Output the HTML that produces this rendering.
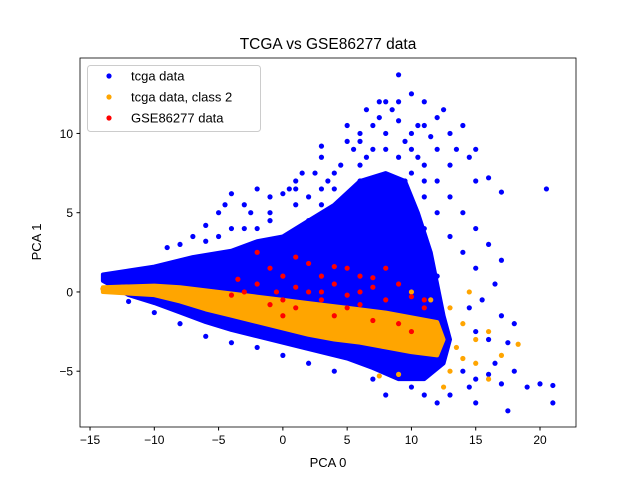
<!DOCTYPE html>
<html><head><meta charset="utf-8"><style>
body{margin:0;background:#fff}
svg{font-family:"Liberation Sans","DejaVu Sans",sans-serif}
</style></head><body>
<svg id="chart" width="640" height="480" viewBox="0 0 640 480">
<rect width="640" height="480" fill="#fff"/>
<text x="328" y="49" font-size="15.5" text-anchor="middle">TCGA vs GSE86277 data</text>
<g id="marks"></g>
<g id="axes"></g>
<text x="328" y="467" font-size="13" text-anchor="middle">PCA 0</text>
<text transform="translate(41,242) rotate(-90)" font-size="13" text-anchor="middle">PCA 1</text>
<g>
<rect x="87.5" y="65.5" width="173" height="66" rx="3" fill="#fff" fill-opacity="0.8" stroke="#ccc"/>
<circle cx="109" cy="76" r="2.6" fill="blue"/>
<text x="131" y="80.5" font-size="13">tcga data</text>
<circle cx="109" cy="97" r="2.6" fill="orange"/>
<text x="131" y="101.5" font-size="13">tcga data, class 2</text>
<circle cx="109" cy="118" r="2.6" fill="red"/>
<text x="131" y="122.5" font-size="13">GSE86277 data</text>
</g>
</svg>
<script>
const xTicks=[-15,-10,-5,0,5,10,15,20];
const yTicks=[-5,0,5,10];
// dense cloud outlines (data coordinates)
const blueCoreX=[-14,-10,-7,-4,-2,0,2,4,6,8,9.5,10.5,11.5,12,12.5,13,12.5,11,9,7,5,2,0,-2,-4,-6,-8,-10,-12,-14];
const blueCoreY=[1.1,1.6,2.2,2.6,3.2,3.5,4.5,5.5,7,7.5,7,5,2.5,0.5,-1.5,-3,-4.5,-5.5,-5.5,-4.8,-4.2,-3.6,-3.2,-2.8,-2.4,-1.9,-1.3,-0.7,-0.2,0.7];
const orangeCoreX=[-14,-10,-8,-6,-4,-2,0,2,4,6,8,10,12,12.5,12,10,8,6,4,2,0,-2,-4,-6,-8,-10,-14];
const orangeCoreY=[0.3,0.4,0.3,0.1,-0.1,-0.3,-0.5,-0.7,-0.9,-1.1,-1.3,-1.6,-1.9,-3,-4,-3.8,-3.5,-3.2,-3,-2.7,-2.3,-1.9,-1.5,-1.1,-0.6,-0.2,0];
const blueX=[9,10,7.5,11,12.5,7.5,9,10.5,13,14,8,6,5.5,11.5,12,13.5,14.5,15,16,15,13,10.5,6.5,4.5,3.5,2.5,1.5,0.5,-1,-2,-3,-4.5,-4,-6,-5,-7,-8,-9,-2.5,0,1,2,3,4,5,6,7,8,9,10,11,12,13,14,15,16,17,20.5,14,15,16.5,15.5,14.5,17,17.5,16,15,14,15,16,17,18,19,20,21,21,17.5,15,14.5,13,12,11,10,8,7,4,2,0,-2,-4,-6,-8,-10,-12,18,16.5,13,12,11,3,1,-1,-3,5,8,6.5,12,3,9.5,7,17,5,6,7,8,9,10,11,8.5,9.5,10,7,6,4,3,2,1,-1,-2,-4,-5,-6,11,12,9,11,10];
const blueY=[13.7,12.5,12,12,11.5,11,10.8,10.5,10,10.5,10,10,9,9.8,9,9,8.5,9,7.2,7,8,8.5,8.5,8,7,7.5,7.5,6.5,6,6.5,5.5,5.5,6.2,4.2,5,3.5,3,2.8,5,6.2,5.5,4.5,5.5,6.5,6,7,5,6,5,5.5,6,7,6,5,4,3,6.3,6.5,2.5,1.5,0.5,-0.5,-1,-1.5,-3.2,-3,-2.5,-5,-5.5,-5.2,-5.8,-5,-6,-5.8,-7,-5.9,-7.5,-7,-6,-6.5,-7,-6.5,-6,-6.5,-5.5,-5,-4.5,-4,-3.5,-3.2,-2.8,-2,-1.3,-0.6,-2,-4.5,3.5,1,4,8.5,7,4.5,4,9.5,12,11.5,11,9.2,7,2.5,2,10.5,9.5,9,9,8.5,9,8,11.5,9.5,10,10.5,8,7.5,6.5,6,6.5,5,4,4,3.5,3.2,7,5,12,10.5,7.5];
const orangeX=[13,14,15,14,15,16,13,16,18.3,17,14.5,12.5,11,9,7.5,13.5,10,11.5,-14,-12.5,-11];
const orangeY=[-1,-2,-3,-4.2,-4.5,-5.5,-5,-2.5,-3.3,-4,0,-6,-3.8,-5.2,-5.3,-3.5,0,-0.5,0.2,0.3,0.1];
const redX=[-2,-1,0,1,-2,-1,0,1,2,3,3,4,4,5,5,6,6,7,8,7,8,9,10,11,11,0,-3,-4,-3.5,2,1,-0.5,3,5,9,4,10,7,6];
const redY=[2.5,1.5,1,0.3,0.5,-0.8,-0.5,-1,0,1,-0.5,0.5,-1.5,-0.2,1.5,1,-0.8,0.3,-0.5,-1.8,1.5,0.5,-0.3,-1,-0.5,-1.5,0,-0.2,0.8,1.8,2.2,0,0,-1,-2,1.6,-2.5,0.9,0];

const L=80,R=576,T=58,B=427,xmin=-15.78,xmax=22.8,ymin=-8.52,ymax=14.76;
const sx=v=>L+(v-xmin)/(xmax-xmin)*(R-L);
const sy=v=>B-(v-ymin)/(ymax-ymin)*(B-T);
const NS='http://www.w3.org/2000/svg';
const marks=document.getElementById('marks'),axes=document.getElementById('axes');
function poly(xs,ys,fill,name){
  const p=document.createElementNS(NS,'polygon');
  p.setAttribute('points',xs.map((x,i)=>sx(x)+','+sy(ys[i])).join(' '));
  p.setAttribute('fill',fill);
  p.setAttribute('stroke',fill);p.setAttribute('stroke-width','4');p.setAttribute('stroke-linejoin','round');
  
  
  marks.appendChild(p);
}
function pts(xs,ys,fill,name){
  xs.forEach((x,i)=>{
    const c=document.createElementNS(NS,'circle');
    c.setAttribute('cx',sx(x));c.setAttribute('cy',sy(ys[i]));c.setAttribute('r',2.6);c.setAttribute('fill',fill);
    
    
    marks.appendChild(c);
  });
}
poly(blueCoreX,blueCoreY,'blue','tcga-dense-cloud');
pts(blueX,blueY,'blue','tcga-point');
poly(orangeCoreX,orangeCoreY,'orange','class2-dense-cloud');
pts(orangeX,orangeY,'orange','class2-point');
pts(redX,redY,'red','gse86277-point');
const frame=document.createElementNS(NS,'rect');
frame.setAttribute('x',L);frame.setAttribute('y',T);frame.setAttribute('width',R-L);frame.setAttribute('height',B-T);
frame.setAttribute('fill','none');frame.setAttribute('stroke','#000');frame.setAttribute('stroke-width','0.8');


axes.appendChild(frame);
xTicks.forEach(t=>{
  const x=sx(t);
  const l=document.createElementNS(NS,'line');
  l.setAttribute('x1',x);l.setAttribute('x2',x);l.setAttribute('y1',B);l.setAttribute('y2',B+3.5);l.setAttribute('stroke','#000');
  
  
  axes.appendChild(l);
  const tx=document.createElementNS(NS,'text');
  tx.setAttribute('x',x);tx.setAttribute('y',B+17);tx.setAttribute('font-size','12');tx.setAttribute('text-anchor','middle');
  tx.textContent=(t<0?'\u2212'+(-t):t);
  
  
  axes.appendChild(tx);
});
yTicks.forEach(t=>{
  const y=sy(t);
  const l=document.createElementNS(NS,'line');
  l.setAttribute('x1',L-3.5);l.setAttribute('x2',L);l.setAttribute('y1',y);l.setAttribute('y2',y);l.setAttribute('stroke','#000');
  
  
  axes.appendChild(l);
  const tx=document.createElementNS(NS,'text');
  tx.setAttribute('x',L-7);tx.setAttribute('y',y+4.5);tx.setAttribute('font-size','12');tx.setAttribute('text-anchor','end');
  tx.textContent=(t<0?'\u2212'+(-t):t);
  
  
  axes.appendChild(tx);
});
</script>
</body></html>
